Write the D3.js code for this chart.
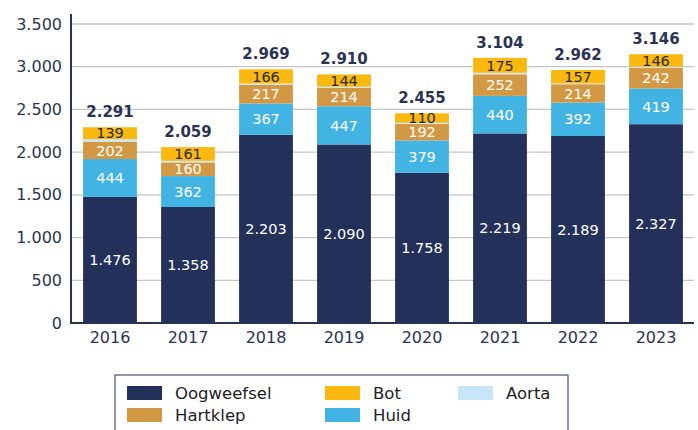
<!DOCTYPE html>
<html><head><meta charset="utf-8">
<script src="https://cdn.jsdelivr.net/npm/d3@7"></script>
<style>body{margin:0;background:#fff}svg{display:block;font-family:"DejaVu Sans",sans-serif}</style>
</head><body><svg id="c" width="698" height="430"></svg>
<script>
const years = ["2016","2017","2018","2019","2020","2021","2022","2023"];
const oogweefsel = [1476,1358,2203,2090,1758,2219,2189,2327];
const huid = [444,362,367,447,379,440,392,419];
const hartklep = [202,160,217,214,192,252,214,242];
const aorta = [30,18,16,15,16,18,10,12];
const bot = [139,161,166,144,110,175,157,146];
const totals = [2291,2059,2969,2910,2455,3104,2962,3146];
const yTicks = [0,500,1000,1500,2000,2500,3000,3500];

const fmt = v => d3.format(",")(v).replace(/,/g,".");
const series = [
  {name:"Oogweefsel", vals:oogweefsel, color:"#22305a", text:"#ffffff", label:true},
  {name:"Huid", vals:huid, color:"#42b4e4", text:"#ffffff", label:true},
  {name:"Hartklep", vals:hartklep, color:"#d39843", text:"#ffffff", label:true},
  {name:"Aorta", vals:aorta, color:"#c6e7f8", text:"#333", label:false},
  {name:"Bot", vals:bot, color:"#fbb80e", text:"#2a2a2a", label:true}
];
const svg = d3.select("#c");
const x = d3.scaleBand().domain(years).range([71,695]).paddingInner(0.31).paddingOuter(0.155);
const y = d3.scaleLinear().domain([0,3500]).range([323,24]);
const navy = "#2b3354";

// grid
svg.append("g").selectAll("line").data(yTicks.slice(1)).join("line")
  .attr("x1",71).attr("x2",694).attr("y1",d=>y(d)).attr("y2",d=>y(d))
  .attr("stroke","#c4c6ca").attr("stroke-width",1.3);

// stacks
years.forEach((yr,i)=>{
  let base = 0;
  series.forEach(s=>{
    const v = s.vals[i];
    const y0 = y(base), y1 = y(base+v);
    svg.append("rect").attr("x",x(yr)).attr("width",x.bandwidth())
      .attr("y",y1).attr("height",y0-y1).attr("fill",s.color);
    if(s.label){
      svg.append("text").attr("x",x(yr)+x.bandwidth()/2).attr("y",(y0+y1)/2)
        .attr("dy","0.36em").attr("text-anchor","middle").attr("font-size",14.5)
        .attr("fill",s.text).text(fmt(v));
    }
    base += v;
  });
  svg.append("text").attr("x",x(yr)+x.bandwidth()/2).attr("y",y(totals[i])-10)
    .attr("text-anchor","middle").attr("font-size",15).attr("font-weight","bold")
    .attr("fill",navy).text(fmt(totals[i]));
});

// axes
const ya = d3.axisLeft(y).tickValues(yTicks).tickFormat(fmt).tickSize(0).tickPadding(9);
const gy = svg.append("g").attr("transform","translate(71,0)").call(ya);
gy.select(".domain").remove();
gy.selectAll("text").attr("font-size",16).attr("fill",navy).attr("font-family","DejaVu Sans");
const xa = d3.axisBottom(x).tickSize(0).tickPadding(9);
const gx = svg.append("g").attr("transform","translate(0,323)").call(xa);
gx.select(".domain").remove();
gx.selectAll("text").attr("font-size",16).attr("fill",navy).attr("font-family","DejaVu Sans");
svg.append("path").attr("d","M71,14V323H694").attr("fill","none").attr("stroke",navy).attr("stroke-width",2);

// legend
svg.append("rect").attr("x",115).attr("y",375).attr("width",453).attr("height",60)
  .attr("fill","none").attr("stroke","#4a5275").attr("stroke-width",1.2);
const legend = [
  {s:"Oogweefsel", c:"#22305a", x:127, y:386},
  {s:"Hartklep", c:"#d39843", x:127, y:408},
  {s:"Bot", c:"#fbb80e", x:325, y:386},
  {s:"Huid", c:"#42b4e4", x:325, y:408},
  {s:"Aorta", c:"#c6e7f8", x:458, y:386}
];
legend.forEach(l=>{
  svg.append("rect").attr("x",l.x).attr("y",l.y).attr("width",35).attr("height",14).attr("fill",l.c);
  svg.append("text").attr("x",l.x+48).attr("y",l.y+7).attr("dy","0.36em")
    .attr("font-size",16.5).attr("fill","#222").text(l.s);
});
</script></body></html>
